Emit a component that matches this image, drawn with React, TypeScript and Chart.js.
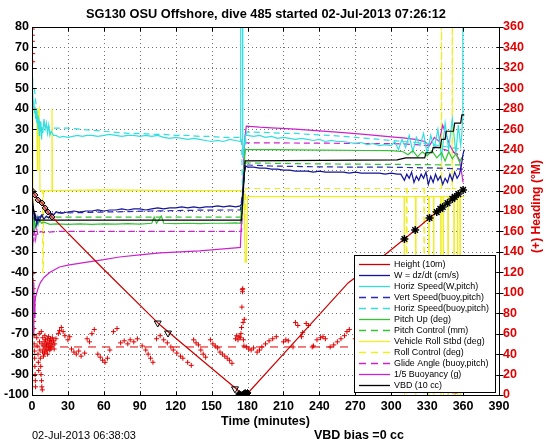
import React, { useEffect, useRef } from 'react';
import { Chart, registerables } from 'chart.js';

Chart.register(...registerables);

type Pt = [number, number];

// ---------- texts ----------
const chartTitle = 'SG130 OSU Offshore, dive 485 started 02-Jul-2013 07:26:12';
const xAxisTitle = 'Time (minutes)';
const headingAxisTitle = '(+) Heading (\u00B0M)';
const footerDate = '02-Jul-2013 06:38:03';
const footerVbd = 'VBD bias =0 cc';

// ---------- axes ----------
const timeTicks = [0, 30, 60, 90, 120, 150, 180, 210, 240, 270, 300, 330, 360, 390];
const leftTicks = [-100, -90, -80, -70, -60, -50, -40, -30, -20, -10, 0, 10, 20, 30, 40, 50, 60, 70, 80];
const headingTicks = [0, 20, 40, 60, 80, 100, 120, 140, 160, 180, 200, 220, 240, 260, 280, 300, 320, 340, 360];

const legendLabels = [
  'Height (10m)',
  'W = dz/dt (cm/s)',
  'Horiz Speed(W,pitch)',
  'Vert Speed(buoy,pitch)',
  'Horiz Speed(buoy,pitch)',
  'Pitch Up (deg)',
  'Pitch Control (mm)',
  'Vehicle Roll Stbd (deg)',
  'Roll Control (deg)',
  'Glide Angle (buoy,pitch)',
  '1/5 Buoyancy (g)',
  'VBD (10 cc)',
];

// ---------- series (time in minutes, value) ----------
const height: Pt[] = [[0, 0], [2.5, -2.2], [5, -4.6], [8.4, -6.1], [10.9, -8.5], [13.4, -10.5], [16.7, -12.9], [60, -38.6], [107, -65.8], [140, -82], [173.7, -98.5], [175.5, -100], [178, -100], [180.4, -99], [220, -73.5], [264, -45.2], [295, -31.3], [313, -22.7], [330, -14.4], [345, -7.1], [360, 0.3]];

const wSpeed: Pt[] = [[0, -3], [1, -8], [2, -14], [3, -12], [4, -16], [5, -13], [6, -15], [8, -12], [10, -14], [12, -12.5], [14, -13.5], [16, -11.5], [18, -12], [20, -10.5], [25, -11], [30, -10.5], [35, -10], [40, -10.5], [45, -10], [50, -10], [55, -9.5], [60, -10], [65, -9.5], [70, -9.5], [75, -9], [80, -9.5], [85, -9], [90, -9], [95, -9.5], [100, -9], [105, -8.5], [110, -9], [115, -8.5], [120, -8.5], [125, -8], [130, -8.5], [135, -8], [140, -8.5], [145, -8], [150, -8], [155, -7.5], [160, -8], [165, -7.5], [170, -8], [174, -7.5], [175.5, -6], [177, 8], [178.5, 12], [180, 11.5], [185, 11.5], [190, 11], [195, 11], [200, 10.5], [205, 10.5], [210, 10], [215, 10], [220, 9.5], [225, 9.5], [230, 9.5], [235, 9], [240, 9.5], [245, 9], [250, 9], [255, 9], [260, 9], [265, 8.5], [270, 9], [275, 8.5], [280, 8.5], [285, 8.5], [290, 8.5], [295, 8], [300, 8.5], [305, 8], [308, 8], [311, 5], [313, 8], [315, 6], [317, 9], [319, 4], [321, 7], [323, 5], [325, 8], [327, 6], [329, 9], [331, 3], [333, 7], [335, 4], [337, 8], [339, 5], [341, 7], [343, 3], [345, 6], [347, 4], [349, 8], [351, 5], [353, 9], [355, 6], [357, 8], [358.5, 12], [360, 18], [361, 20]];

const horizSpeedW: Pt[] = [[0, 46], [0.4, 55], [0.8, 48], [1.2, 40], [1.6, 44], [2, 38], [2.5, 41], [3, 35], [3.5, 39], [4, 33], [4.5, 37], [5, 30], [5.5, 36], [6, 27], [6.5, 34], [7, 29], [7.5, 33], [8, 25], [8.5, 31], [9, 28], [10, 35], [11, 30], [12, 33], [13, 28], [14, 32], [15, 27], [16, 29], [18, 27], [20, 27], [23, 26], [26, 26.5], [30, 26], [34, 26.5], [38, 27], [42, 26.5], [46, 27], [50, 27], [55, 26.5], [60, 27], [65, 27.5], [70, 27], [75, 26.5], [80, 27], [85, 27], [90, 26.5], [95, 27], [100, 26.5], [105, 27], [110, 26], [115, 25.5], [120, 26], [125, 25.5], [130, 25], [135, 25.5], [140, 25], [145, 24.5], [150, 24], [155, 24.5], [160, 24], [165, 25], [170, 24.5], [174, 24], [174.3, 100], [175.8, 100], [176, 16], [177, 20], [178, 27], [180, 27], [185, 26.5], [190, 27], [195, 26], [200, 26.5], [205, 25.5], [210, 26], [215, 25.5], [220, 25], [225, 25.5], [230, 25], [235, 24.5], [240, 25], [245, 24], [250, 24.5], [255, 24], [260, 24], [265, 23.5], [270, 23], [275, 23.5], [280, 22.5], [285, 23], [290, 22], [295, 22.5], [300, 22], [303, 24], [306, 20], [309, 25], [312, 21], [315, 27], [318, 19], [321, 26], [324, 22], [327, 28], [330, 18], [333, 27], [336, 21], [339, 30], [342, 16], [345, 33], [348, 20], [351, 35], [354, 18], [356, 32], [358, 22], [359, 28], [359.6, 35], [359.8, 100], [360.4, 100]];

const vertSpeedBuoy: Pt[] = [[3, -18], [6, -13], [10, -11.5], [20, -11], [40, -10.8], [60, -10.5], [80, -10.3], [100, -10], [120, -9.8], [140, -9.6], [160, -9.5], [174, -9.5], [176, 0], [178, 12.5], [180, 12.5], [200, 12], [220, 11.8], [240, 11.6], [260, 11.5], [280, 11.5], [300, 11.4], [320, 11.2], [340, 11], [360, 10.5]];

const horizSpeedBuoy: Pt[] = [[2, 50], [3, 44], [4, 38], [5, 36], [6, 34], [8, 33], [10, 32], [13, 31], [16, 30.5], [20, 30.5], [30, 30.5], [40, 30], [50, 29.5], [60, 29], [70, 28.5], [80, 28], [90, 28], [100, 27.5], [110, 27.5], [120, 27], [130, 27], [140, 26.5], [150, 26.5], [160, 26], [170, 26], [175, 26], [176, -8], [177.5, 16], [179, 28.6], [190, 28.5], [200, 28.3], [210, 28], [220, 28], [230, 27.5], [240, 27.2], [250, 27], [260, 26.5], [270, 26], [280, 25.5], [290, 25], [300, 24.5], [310, 24], [320, 23.5], [330, 23], [340, 22], [350, 21], [360, 20]];

const pitchUp: Pt[] = [[0, -5], [0.3, -97], [0.6, -22], [1, -13], [1.5, -19], [2, -14], [3, -18], [4, -15], [5, -17], [6, -14], [8, -16], [10, -15.5], [15, -16.5], [20, -16.3], [30, -16.5], [40, -16.3], [50, -16.5], [60, -16.3], [70, -16.4], [80, -16.2], [90, -16.4], [100, -16], [102, -13], [104, -16], [108, -12.5], [110, -16], [120, -16.2], [130, -16], [140, -16.2], [150, -16], [160, -16], [170, -15.8], [174, -16], [176, 0], [178, 20], [200, 20], [240, 19.8], [280, 19.6], [300, 19.5], [310, 19], [314, 17.5], [318, 19.5], [322, 16.5], [326, 19], [330, 17], [334, 19.5], [338, 16], [342, 18.5], [345, 14.5], [348, 19], [351, 15.5], [354, 18], [357, 14], [360, 17]];

const pitchControl: Pt[] = [[3, -13], [175, -13], [176.5, 0], [178, 13.5], [250, 13], [300, 12.8], [361, 12.5]];

const vehicleRoll: Pt[] = [[0, 0], [0.8, 40], [4, 40], [4.5, 10], [5, 38], [6, 40], [6.7, 0], [16.3, 0], [16.7, 40], [17.1, 0], [60, 0.3], [120, 0], [177, 0], [178, -35], [179, -35], [180, -3], [250, -3], [310.8, -3], [311, -100], [311.2, -3], [320.3, -3], [320.5, -100], [320.7, -3], [331.3, -3], [331.5, -100], [331.7, -3], [335.3, -3], [335.5, -100], [335.7, -3], [341.3, -3], [341.5, -100], [341.7, -3], [343.3, -3], [343.5, -100], [343.7, -3], [347.3, -3], [347.5, -100], [347.7, -3], [352.3, -3], [352.5, -100], [352.7, -3], [355.3, -3], [355.5, -100], [355.7, -3], [357.3, -3], [357.5, -100], [357.7, -3], [361, -3]];

const rollControl: Pt[] = [[0, 40], [0.8, -25], [1.5, 0], [8.8, 0], [9, -40], [9.5, -40], [9.7, 0], [175, 0], [177, 0], [177.5, -25], [178.5, 1], [300, 1], [312.8, 1], [313, -100], [313.2, 1], [327.3, 1], [327.5, -100], [327.7, 1], [341.8, 1], [342, 100], [342.2, 1], [350.8, 1], [351, 100], [351.2, 1], [361, 1]];

const glideAngle: Pt[] = [[0, -10], [0.5, -28], [1, -18], [1.5, -25], [2, -20], [3, -24], [4, -19], [5, -22], [7, -20], [10, -20.5], [20, -20], [40, -20], [60, -20], [80, -20], [100, -20], [120, -20], [140, -20], [160, -20], [175, -20], [176.5, 5], [178, 23.3], [200, 23.3], [240, 23.2], [280, 23], [300, 23], [310, 22.8], [320, 22.5], [330, 22], [340, 21], [350, 19], [355, 18], [360, 15]];

const buoyancy: Pt[] = [[0, 0], [0.5, -40], [1, -70], [1.5, -45], [2, -62], [2.5, -55], [3, -52], [4, -50], [5, -48], [7, -45], [10, -42.5], [15, -40], [23, -37.4], [30, -36.5], [46, -35], [60, -33.8], [73, -32.5], [90, -31.5], [107, -30.5], [124, -30], [140, -29.5], [155, -28.8], [170, -28], [174, -27.8], [176, 0], [177.5, 25], [179, 31.5], [190, 31], [200, 30.7], [220, 30], [240, 29.2], [260, 28.3], [280, 27.4], [300, 26.3], [310, 25.8], [320, 25], [328, 24], [332, 22], [336, 26], [340, 24], [343, 32], [346, 27], [349, 22], [352, 19], [355, 17], [357, 15], [359, 8], [360, 4]];

const vbd: Pt[] = [[0, -5], [3, -14.5], [175, -14.5], [176.5, 0], [178, 14.5], [305, 15], [312, 16], [328, 16], [329, 18.5], [334, 18.5], [335, 21], [341, 21], [342, 25], [345, 25], [346, 29], [352, 29], [353, 33], [358, 33], [359, 37], [361, 37]];

// heading (degrees, right axis)
const heading: Pt[] = [[0.2, 358], [0.3, 352], [0.35, 346], [0.45, 340], [0.5, 334], [0.6, 326], [0.8, 119], [0.9, 112], [1.0, 104], [1.1, 96], [1.2, 88], [1.3, 80], [1.4, 72], [1.6, 65], [1.7, 58], [1.8, 50], [2.0, 43], [2.2, 36], [2.4, 28], [2.6, 20], [2.8, 14], [3.0, 8], [4, 56], [4.3, 48], [5, 40], [5.3, 32], [5.6, 24], [6, 60], [6.3, 52], [6.6, 44], [7, 36], [7.3, 28], [7.6, 20], [7.8, 62], [8, 14], [8.2, 8], [8.4, 50], [8.6, 5], [8.8, 42], [9, 56], [9.3, 48], [9.6, 38], [10, 45], [10.2, 52], [10.5, 41], [10.8, 58], [11, 47], [11.3, 54], [11.6, 43], [11.9, 50], [12.2, 49], [12.5, 44], [12.8, 55], [13, 40], [13.3, 51], [13.6, 46], [13.9, 57], [14.2, 48], [14.5, 53], [14.8, 44], [15.1, 50], [15.4, 55], [15.7, 45], [16, 47], [16.4, 52], [17, 56], [17.4, 49], [18, 53], [18.5, 45], [19, 50], [20, 55], [22, 60], [23, 63], [24.5, 66], [26, 62], [27.5, 58], [30, 54], [31.5, 57], [33, 45], [35, 42], [37, 40], [39, 43], [41, 38], [44, 41], [46, 55], [48, 52], [50, 60], [52, 64], [55, 40], [57, 37], [59, 34], [61, 32], [63, 36], [65, 44], [68, 62], [71, 65], [74, 51], [77, 53], [80, 50], [82, 54], [85, 52], [88, 55], [92, 48], [95, 44], [97, 40], [99, 36], [101, 32], [104, 55], [107, 58], [110, 54], [113, 51], [116, 47], [118, 44], [121, 41], [124, 38], [126, 36], [130, 32], [133, 29], [135, 54], [137, 51], [139, 49], [141, 44], [143, 40], [145, 37], [149, 54], [151, 50], [153, 48], [155, 46], [157, 42], [159, 40], [161, 38], [163, 36], [165, 34], [167, 31], [170, 55], [171, 58], [172, 54], [173, 57], [174, 56], [174.5, 60], [175, 66], [175.3, 86], [175.6, 103], [175.8, 101], [176, 104], [176.3, 71], [176.6, 54], [177, 48], [177.3, 74], [179, 47], [181, 45], [183, 44], [185, 46], [188, 42], [190, 44], [192, 47], [195, 50], [198, 53], [201, 55], [204, 57], [210, 52], [212, 54], [214, 53], [218, 47], [220, 71], [222, 68], [225, 57], [226, 61], [229, 70], [231, 68], [234, 47], [235, 48], [238, 54], [241, 56], [243, 57], [245, 55], [249, 47], [252, 49], [255, 52], [258, 55], [261, 58], [263, 62], [265, 64], [270, 55], [275, 50], [280, 58], [285, 46], [290, 52], [295, 60], [300, 48], [305, 55], [310, 50], [315, 58], [320, 45], [325, 52], [330, 60], [340, 50], [345, 55], [353, 2]];
const headingTarget: Pt[] = [[0, 47], [361, 47]];

// black event markers on the depth trace
const startMarks: Pt[] = [[0, 0], [2.5, -2.2], [5, -4.6], [8.4, -6.1], [10.9, -8.5], [13.4, -10.5], [16.7, -12.9]];
const triangleMarks: Pt[] = [[105, -64.8], [113.6, -69.7], [169.5, -97]];
const bottomMarks: Pt[] = [[173, -99.5], [174.5, -100], [176, -100], [177, -99.5], [178, -99], [179, -99.5], [180, -99]];
const ascentMarks: Pt[] = [[311, -23.7], [320, -19.3], [332, -13.4], [338, -10.5], [341, -9.0], [343, -8.0], [347, -6.1], [351, -4.1], [353, -3.1], [356, -1.7], [360, 0.3]];

// ---------- styling ----------
const FONT = "'Liberation Sans', Arial, Helvetica, sans-serif";
const DASH = [6, 4];
const seriesStyles = [
  { data: height, color: '#cc0000', dash: [] as number[], order: 3 },
  { data: wSpeed, color: '#14149a', dash: [], order: 6 },
  { data: horizSpeedW, color: '#33dede', dash: [], order: 9 },
  { data: vertSpeedBuoy, color: '#2a2ab4', dash: DASH, order: 7 },
  { data: horizSpeedBuoy, color: '#33dede', dash: DASH, order: 10 },
  { data: pitchUp, color: '#33c433', dash: [], order: 8 },
  { data: pitchControl, color: '#33c433', dash: DASH, order: 8 },
  { data: vehicleRoll, color: '#eeee20', dash: [], order: 12 },
  { data: rollControl, color: '#eeee20', dash: DASH, order: 12 },
  { data: glideAngle, color: '#cc22cc', dash: DASH, order: 11 },
  { data: buoyancy, color: '#cc22cc', dash: [], order: 11 },
  { data: vbd, color: '#000000', dash: [], order: 5 },
];

const toXY = (pts: Pt[]) => pts.map(([x, y]) => ({ x, y }));

function fitFont(ctx: CanvasRenderingContext2D, text: string, weight: string, base: number, width: number) {
  ctx.font = `${weight} ${base}px ${FONT}`;
  const w = ctx.measureText(text).width;
  let s = (base * width) / w;
  s = Math.max(base * 0.8, Math.min(base * 1.2, s));
  ctx.font = `${weight} ${s.toFixed(2)}px ${FONT}`;
  return s;
}

const decor = {
  id: 'matlabDecor',
  beforeDatasetsDraw(chart: any) {
    const { ctx, chartArea: a } = chart;
    const xs = chart.scales.x;
    const ys = chart.scales.y;
    ctx.save();
    ctx.strokeStyle = '#707070';
    ctx.lineWidth = 1;
    ctx.setLineDash([1, 3]);
    ctx.beginPath();
    timeTicks.forEach((t) => {
      const p = Math.round(xs.getPixelForValue(t)) + 0.5;
      ctx.moveTo(p, a.top);
      ctx.lineTo(p, a.bottom);
    });
    leftTicks.forEach((v) => {
      const p = Math.round(ys.getPixelForValue(v)) + 0.5;
      ctx.moveTo(a.left, p);
      ctx.lineTo(a.right, p);
    });
    ctx.stroke();
    ctx.restore();
  },
  afterDatasetsDraw(chart: any) {
    const { ctx, chartArea: a } = chart;
    const xs = chart.scales.x;
    const ys = chart.scales.y;
    const y1 = chart.scales.y1;
    const L = Math.round(a.left) + 0.5;
    const R = Math.round(a.right) + 0.5;
    const T = Math.round(a.top) + 0.5;
    const B = Math.round(a.bottom) + 0.5;
    ctx.save();
    ctx.setLineDash([]);
    ctx.strokeStyle = '#000';
    ctx.lineWidth = 1;
    ctx.beginPath();
    timeTicks.forEach((t) => {
      const p = Math.round(xs.getPixelForValue(t)) + 0.5;
      ctx.moveTo(p, B); ctx.lineTo(p, B - 4);
      ctx.moveTo(p, T); ctx.lineTo(p, T + 4);
    });
    leftTicks.forEach((v) => {
      const p = Math.round(ys.getPixelForValue(v)) + 0.5;
      ctx.moveTo(L, p); ctx.lineTo(L + 4, p);
    });
    headingTicks.forEach((v) => {
      const p = Math.round(y1.getPixelForValue(v)) + 0.5;
      ctx.moveTo(R - 3, p); ctx.lineTo(R + 4, p);
    });
    ctx.stroke();
    ctx.strokeRect(L, T, R - L, B - T);

    // legend box
    const lx0 = 354.5, ly0 = 255.5, lx1 = 495.5, ly1 = 392.5;
    ctx.fillStyle = '#fff';
    ctx.fillRect(lx0, ly0, lx1 - lx0, ly1 - ly0);
    ctx.strokeStyle = '#000';
    ctx.strokeRect(lx0, ly0, lx1 - lx0, ly1 - ly0);
    const fs = fitFont(ctx, 'Horiz Speed(buoy,pitch)', 'normal', 9, 95);
    ctx.font = `normal ${fs.toFixed(2)}px ${FONT}`;
    ctx.textBaseline = 'middle';
    ctx.textAlign = 'left';
    seriesStyles.forEach((s, i) => {
      const y = 264.5 + i * 11;
      ctx.strokeStyle = s.color;
      ctx.lineWidth = 1.3;
      ctx.setLineDash(s.dash.length ? [7, 5] : []);
      ctx.beginPath();
      ctx.moveTo(359, y);
      ctx.lineTo(390, y);
      ctx.stroke();
      ctx.fillStyle = '#000';
      ctx.fillText(legendLabels[i], 394, y + 0.5);
    });
    ctx.restore();
  },
  afterDraw(chart: any) {
    const { ctx } = chart;
    ctx.save();
    ctx.fillStyle = '#000';
    ctx.textBaseline = 'middle';
    ctx.textAlign = 'center';
    fitFont(ctx, chartTitle, 'bold', 12, 360);
    ctx.fillText(chartTitle, 266, 14);
    fitFont(ctx, xAxisTitle, 'bold', 12, 89);
    ctx.fillText(xAxisTitle, 265.5, 422);
    ctx.textAlign = 'left';
    fitFont(ctx, footerDate, 'normal', 10, 104);
    ctx.fillText(footerDate, 32, 436);
    fitFont(ctx, footerVbd, 'bold', 12, 90);
    ctx.fillText(footerVbd, 314, 436);
    // right axis title
    ctx.translate(537, 206.5);
    ctx.rotate(-Math.PI / 2);
    ctx.textAlign = 'center';
    ctx.fillStyle = '#e00000';
    fitFont(ctx, headingAxisTitle, 'bold', 11, 93);
    ctx.fillText(headingAxisTitle, 0, 0);
    ctx.restore();
  },
};

export default function App() {
  const ref = useRef<HTMLCanvasElement>(null);
  useEffect(() => {
    const canvas = ref.current;
    if (!canvas) return;
    const lineSets = seriesStyles.map((s, i) => ({
      label: legendLabels[i],
      data: toXY(s.data),
      showLine: true,
      borderColor: s.color,
      backgroundColor: s.color,
      borderWidth: 1.2,
      borderDash: s.dash,
      pointRadius: 0,
      tension: 0,
      yAxisID: 'y',
      order: s.order,
    }));
    const markerSets = [
      { label: 'heading', data: toXY(heading), yAxisID: 'y1', pointStyle: 'cross', pointRadius: 2.5, borderColor: '#e00000', backgroundColor: '#e00000', borderWidth: 1, showLine: false, order: 20 },
      { label: 'heading target', data: toXY(headingTarget), yAxisID: 'y1', showLine: true, pointRadius: 0, borderColor: '#e00000', borderWidth: 1, borderDash: [8, 6], order: 19 },
      { label: 'start', data: toXY(startMarks), yAxisID: 'y', pointStyle: 'rectRot', pointRadius: 3, borderColor: '#000', backgroundColor: 'rgba(200,80,80,0.6)', borderWidth: 1, showLine: false, order: 1 },
      { label: 'tri', data: toXY(triangleMarks), yAxisID: 'y', pointStyle: 'triangle', rotation: 180, pointRadius: 4, borderColor: '#000', backgroundColor: 'rgba(0,0,0,0)', borderWidth: 1, showLine: false, order: 1 },
      { label: 'bottom', data: toXY(bottomMarks), yAxisID: 'y', pointStyle: 'rectRot', pointRadius: 3.5, borderColor: '#000', backgroundColor: '#000', borderWidth: 1, showLine: false, order: 1 },
      { label: 'ascent', data: toXY(ascentMarks), yAxisID: 'y', pointStyle: 'star', pointRadius: 4, borderColor: '#000', backgroundColor: '#000', borderWidth: 1.5, showLine: false, order: 1 },
    ];
    const tickFont = { family: FONT, size: 12.5, weight: 'bold' as const };
    const chart = new Chart(canvas, {
      type: 'scatter',
      data: { datasets: [...lineSets, ...markerSets] as any },
      plugins: [decor as any],
      options: {
        responsive: false,
        maintainAspectRatio: false,
        devicePixelRatio: 1,
        animation: false,
        events: [],
        layout: { padding: { top: 27, left: 0, right: 0, bottom: 0 } },
        plugins: { legend: { display: false }, tooltip: { enabled: false }, title: { display: false } },
        scales: {
          x: {
            type: 'linear',
            position: 'bottom',
            min: 0,
            max: 390,
            afterBuildTicks: (s: any) => { s.ticks = timeTicks.map((v) => ({ value: v })); },
            ticks: { autoSkip: false, maxRotation: 0, font: tickFont, color: '#000', padding: 4 },
            grid: { display: false, drawTicks: false },
            border: { display: false },
            afterFit: (s: any) => { s.height = 47; },
          },
          y: {
            type: 'linear',
            position: 'left',
            min: -100,
            max: 80,
            afterBuildTicks: (s: any) => { s.ticks = leftTicks.map((v) => ({ value: v })); },
            ticks: { autoSkip: false, font: tickFont, color: '#000', padding: 3 },
            grid: { display: false, drawTicks: false },
            border: { display: false },
            afterFit: (s: any) => { s.width = 32; },
          },
          y1: {
            type: 'linear',
            position: 'right',
            min: 0,
            max: 360,
            afterBuildTicks: (s: any) => { s.ticks = headingTicks.map((v) => ({ value: v })); },
            ticks: { autoSkip: false, font: tickFont, color: '#e00000', padding: 4 },
            grid: { display: false, drawTicks: false },
            border: { display: false },
            afterFit: (s: any) => { s.width = 47; },
          },
        },
      } as any,
    });
    return () => chart.destroy();
  }, []);
  return (
    <div style={{ position: 'fixed', left: 0, top: 0, width: 546, height: 442, background: '#fff' }}>
      <canvas ref={ref} width={546} height={442} style={{ display: 'block', width: 546, height: 442 }} />
    </div>
  );
}
